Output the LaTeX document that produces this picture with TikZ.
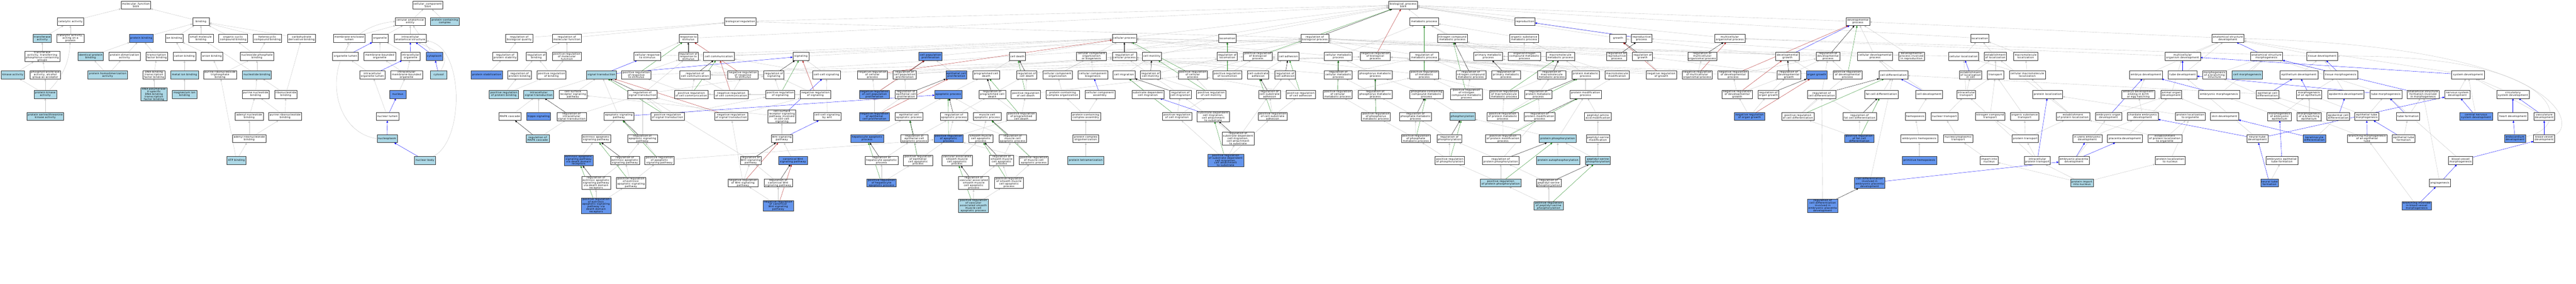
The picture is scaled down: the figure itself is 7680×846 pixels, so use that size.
\documentclass[tikz,border=0pt]{standalone}
\usepackage{fontspec}
\setmainfont{DejaVu Sans}[LetterSpace=8]
\usetikzlibrary{arrows.meta}
\definecolor{lbc}{HTML}{ADD8E6}
\definecolor{cfc}{HTML}{6495ED}
\definecolor{egc}{RGB}{195,195,195}
\definecolor{greenc}{HTML}{228B22}
\definecolor{redc}{HTML}{B22222}
\definecolor{bluec}{HTML}{0000FF}
\pgfdeclarelayer{bg}
\pgfsetlayers{bg,main}
\newcommand{\gonode}[5]{\node[#1,minimum width=#2pt] (#3) at (#4) {#5};}
\begin{document}
\begin{tikzpicture}[x=1pt,y=-1pt,
  gobox/.style={draw=black!80, line width=0.7pt, align=center, font=\fontsize{7.5}{7.6}\selectfont, inner xsep=1.5pt, inner ysep=0.8pt, minimum height=24pt, text=black},
  wb/.style={gobox, fill=white},
  lbb/.style={gobox, fill=lbc},
  cfb/.style={gobox, fill=cfc},
  isa/.style={draw=egc, line width=0.6pt, -{Triangle[length=6pt,width=5pt]}},
  partof/.style={isa, draw=bluec},
  regl/.style={isa, draw=black},
  posr/.style={isa, draw=greenc},
  negr/.style={isa, draw=redc}]
\useasboundingbox (0,0) rectangle (7680,846);
% ---------------- molecular function
\gonode{wb}{88}{mf}{405,15}{molecular\_function\\Stk4}
\gonode{wb}{78}{cat}{210,64}{catalytic activity}
\gonode{wb}{49}{bind}{599,64}{binding}
\gonode{lbb}{54}{transf}{126,114}{transferase\\activity}
\gonode{wb}{80}{catprot}{210,114}{catalytic activity,\\acting on a\\protein}
\gonode{cfb}{71}{pbind}{421,114}{protein binding}
\gonode{wb}{52}{ionb}{519,114}{ion binding}
\gonode{wb}{73}{smb}{599,114}{small molecule\\binding}
\gonode{wb}{86}{ocb}{695,114}{organic cyclic\\compound binding}
\gonode{wb}{85}{hcb}{797,114}{heterocyclic\\compound binding}
\gonode{wb}{84}{cdb}{899,114}{carbohydrate\\derivative binding}
\gonode{wb}{105}{ttpg}{126,168}{transferase\\activity, transferring\\phosphorus-containing\\groups}
\gonode{lbb}{76}{idpb}{270,168}{identical protein\\binding}
\gonode{wb}{94}{pda}{371,168}{protein dimerization\\activity}
\gonode{wb}{65}{tfb}{467,168}{transcription\\factor binding}
\gonode{wb}{68}{catb}{550,168}{cation binding}
\gonode{wb}{64}{anb}{632,168}{anion binding}
\gonode{wb}{101}{nspb}{766,168}{nucleoside phosphate\\binding}
\gonode{lbb}{70}{kin}{38,223}{kinase activity}
\gonode{wb}{91}{pta}{135,223}{phosphotransferase\\activity, alcohol\\group as acceptor}
\gonode{lbb}{118}{phda}{321,223}{protein homodimerization\\activity}
\gonode{wb}{65}{dtfb}{459,223}{DNA-binding\\transcription\\factor binding}
\gonode{lbb}{82}{mib}{550,223}{metal ion binding}
\gonode{wb}{99}{prtb}{656,223}{purine ribonucleoside\\triphosphate\\binding}
\gonode{lbb}{86}{ntb}{766,223}{nucleotide binding}
\gonode{lbb}{68}{pka}{135,281}{protein kinase\\activity}
\gonode{lbb}{78}{rnap}{459,281}{RNA polymerase\\II-specific\\DNA-binding\\transcription\\factor binding}
\gonode{lbb}{74}{mgb}{550,281}{magnesium ion\\binding}
\gonode{wb}{80}{pnb}{762,281}{purine nucleotide\\binding}
\gonode{wb}{67}{rnb}{852,281}{ribonucleotide\\binding}
\gonode{lbb}{110}{pstk}{135,347}{protein serine/threonine\\kinase activity}
\gonode{wb}{83}{adnb}{743,347}{adenyl nucleotide\\binding}
\gonode{wb}{98}{prnb}{850,347}{purine ribonucleotide\\binding}
\gonode{wb}{100}{arnb}{743,413}{adenyl ribonucleotide\\binding}
\gonode{lbb}{57}{atp}{705,478}{ATP binding}
% ---------------- cellular component
\gonode{wb}{90}{cc}{1275,15}{cellular\_component\\Stk4}
\gonode{wb}{88}{cae}{1223,64}{cellular anatomical\\entity}
\gonode{lbb}{85}{pcc}{1326,64}{protein-containing\\complex}
\gonode{wb}{94}{mel}{1041,114}{membrane-enclosed\\lumen}
\gonode{wb}{48}{org}{1133,114}{organelle}
\gonode{wb}{96}{ias}{1223,114}{intracellular\\anatomical structure}
\gonode{wb}{77}{ol}{1030,168}{organelle lumen}
\gonode{wb}{95}{mbo}{1132,168}{membrane-bounded\\organelle}
\gonode{wb}{56}{io}{1224,168}{intracellular\\organelle}
\gonode{cfb}{50}{cyto}{1295,168}{cytoplasm}
\gonode{wb}{76}{iol}{1110,223}{intracellular\\organelle lumen}
\gonode{wb}{95}{imbo}{1212,223}{intracellular\\membrane-bounded\\organelle}
\gonode{lbb}{49}{cytosol}{1308,223}{cytosol}
\gonode{cfb}{49}{nuc}{1186,281}{nucleus}
\gonode{wb}{67}{nl}{1155,347}{nuclear lumen}
\gonode{lbb}{60}{npl}{1154,413}{nucleoplasm}
\gonode{lbb}{62}{nb}{1267,478}{nuclear body}
% ---------------- biological process
\gonode{wb}{85}{bp}{4183,15}{biological\_process\\Stk4}
\gonode{wb}{94}{biolreg}{2207,64}{biological regulation}
\gonode{wb}{85}{metab}{4246,64}{metabolic process}
\gonode{wb}{60}{repro}{4546,64}{reproduction}
\gonode{wb}{70}{devp}{5539,64}{developmental\\process}
% row y114
\gonode{wb}{81}{rbq}{1548,114}{regulation of\\biological quality}
\gonode{wb}{86}{rmf}{1690,114}{regulation of\\molecular function}
\gonode{wb}{55}{rts}{2052,114}{response to\\stimulus}
\gonode{wb}{72}{cellp}{3352,114}{cellular process}
\gonode{wb}{52}{loco}{3659,114}{locomotion}
\gonode{wb}{83}{rbp}{3920,114}{regulation of\\biological process}
\gonode{wb}{89}{ncmp}{4330,114}{nitrogen compound\\metabolic process}
\gonode{wb}{85}{osmp}{4544,114}{organic substance\\metabolic process}
\gonode{wb}{49}{growth}{4824,114}{growth}
\gonode{wb}{60}{rp}{4894,114}{reproductive\\process}
\gonode{wb}{90}{mop}{5157,114}{multicellular\\organismal process}
\gonode{wb}{54}{loc}{5902,114}{localization}
\gonode{wb}{96}{asd}{6642,114}{anatomical structure\\development}
% row y168
\gonode{wb}{74}{rps}{1506,168}{regulation of\\protein stability}
\gonode{wb}{60}{rbind}{1599,168}{regulation of\\binding}
\gonode{wb}{86}{prmf}{1690,168}{positive regulation\\of molecular\\function}
\gonode{wb}{80}{crs}{1930,168}{cellular response\\to stimulus}
\gonode{wb}{59}{rrs}{2052,168}{regulation of\\response to\\stimulus}
\gonode{wb}{91}{cellcomm}{2143,168}{cell communication}
\gonode{wb}{49}{sig}{2388,168}{signaling}
\gonode{cfb}{69}{cpp}{2774,168}{cell population\\proliferation}
\gonode{wb}{48}{cdeath}{3033,168}{cell death}
\gonode{wb}{89}{ccob}{3254,168}{cellular component\\organization\\or biogenesis}
\gonode{wb}{72}{rcp}{3352,168}{regulation of\\cellular process}
\gonode{wb}{56}{cmot}{3434,168}{cell motility}
\gonode{wb}{60}{rloc}{3659,168}{regulation of\\locomotion}
\gonode{wb}{86}{prbp}{3750,168}{positive regulation\\of biological\\process}
\gonode{wb}{63}{cadh}{3841,168}{cell adhesion}
\gonode{wb}{83}{cmp}{3990,168}{cellular metabolic\\process}
\gonode{wb}{90}{nrbp}{4100,168}{negative regulation\\of biological\\process}
\gonode{wb}{85}{rmp}{4246,168}{regulation of\\metabolic process}
\gonode{wb}{86}{pmp}{4437,168}{primary metabolic\\process}
\gonode{wb}{97}{oncmp}{4545,168}{organonitrogen\\compound metabolic\\process}
\gonode{wb}{85}{mmp}{4652,168}{macromolecule\\metabolic process}
\gonode{wb}{60}{rrp}{4820,168}{regulation of\\reproductive\\process}
\gonode{wb}{60}{rgrowth}{4897,168}{regulation of\\growth}
\gonode{wb}{87}{rmop}{5075,168}{regulation of\\multicellular\\organismal process}
\gonode{wb}{70}{dg}{5329,168}{developmental\\growth}
\gonode{wb}{71}{rdp}{5450,168}{regulation of\\developmental\\process}
\gonode{wb}{105}{cdp}{5590,168}{cellular developmental\\process}
\gonode{wb}{78}{dpir}{5699,168}{developmental\\process involved\\in reproduction}
\gonode{wb}{90}{cloc}{5854,168}{cellular localization}
\gonode{wb}{66}{eloc}{5949,168}{establishment\\of localization}
\gonode{wb}{73}{mloc}{6039,168}{macromolecule\\localization}
\gonode{wb}{106}{mod}{6507,168}{multicellular\\organism development}
\gonode{wb}{96}{asm}{6757,168}{anatomical structure\\morphogenesis}
\gonode{wb}{91}{td}{6923,168}{tissue development}
% row y223
\gonode{cfb}{93}{pstab}{1451,223}{protein stabilization}
\gonode{wb}{71}{rpb}{1549,223}{regulation of\\protein binding}
\gonode{wb}{87}{prb}{1644,223}{positive regulation\\of binding}
\gonode{lbb}{88}{st}{1793,223}{signal transduction}
\gonode{wb}{87}{prrs}{1897,223}{positive regulation\\of response\\to stimulus}
\gonode{wb}{91}{rcc}{2072,223}{regulation of\\cell communication}
\gonode{wb}{91}{nrrs}{2215,223}{negative regulation\\of response\\to stimulus}
\gonode{wb}{60}{rsig}{2307,223}{regulation of\\signaling}
\gonode{wb}{82}{ccs}{2464,223}{cell-cell signaling}
\gonode{wb}{90}{nrcp}{2601,223}{negative regulation\\of cellular\\process}
\gonode{wb}{69}{rcpp}{2697,223}{regulation of\\cell population\\proliferation}
\gonode{cfb}{62}{ecp}{2851,223}{epithelial cell\\proliferation}
\gonode{wb}{79}{pcd}{2940,223}{programmed cell\\death}
\gonode{wb}{60}{rcd}{3061,223}{regulation of\\cell death}
\gonode{wb}{88}{cco}{3153,223}{cellular component\\organization}
\gonode{wb}{89}{ccb}{3258,223}{cellular component\\biogenesis}
\gonode{wb}{66}{cmig}{3351,223}{cell migration}
\gonode{wb}{60}{rcm}{3430,223}{regulation of\\cell motility}
\gonode{wb}{86}{prcp}{3556,223}{positive regulation\\of cellular\\process}
\gonode{wb}{86}{prl}{3659,223}{positive regulation\\of locomotion}
\gonode{wb}{63}{csa}{3751,223}{cell-substrate\\adhesion}
\gonode{wb}{62}{rca}{3831,223}{regulation of\\cell adhesion}
\gonode{wb}{83}{rcmp}{3990,223}{regulation of\\cellular metabolic\\process}
\gonode{wb}{101}{phmp}{4100,223}{phosphorus metabolic\\process}
\gonode{wb}{87}{prmp}{4246,223}{positive regulation\\of metabolic\\process}
\gonode{wb}{89}{rncmp}{4385,223}{regulation of\\nitrogen compound\\metabolic process}
\gonode{wb}{85}{rpmp}{4490,223}{regulation of\\primary metabolic\\process}
\gonode{wb}{85}{rmmp}{4626,223}{regulation of\\macromolecule\\metabolic process}
\gonode{wb}{82}{protmp}{4727,223}{protein metabolic\\process}
\gonode{wb}{73}{mmod}{4821,223}{macromolecule\\modification}
\gonode{wb}{90}{nrg}{4953,223}{negative regulation\\of growth}
\gonode{wb}{90}{nrmop}{5060,223}{negative regulation\\of multicellular\\organismal process}
\gonode{wb}{90}{nrdp}{5167,223}{negative regulation\\of developmental\\process}
\gonode{wb}{70}{rdg}{5333,223}{regulation of\\developmental\\growth}
\gonode{cfb}{62}{og}{5416,223}{organ growth}
\gonode{wb}{86}{prdp}{5508,223}{positive regulation\\of developmental\\process}
\gonode{wb}{85}{cdiff}{5645,223}{cell differentiation}
\gonode{wb}{66}{elic}{5875,223}{establishment\\of localization\\in cell}
\gonode{wb}{49}{transp}{5949,223}{transport}
\gonode{wb}{107}{cmloc}{6044,223}{cellular macromolecule\\localization}
\gonode{wb}{99}{embd}{6398,223}{embryo development}
\gonode{wb}{86}{tubed}{6507,223}{tube development}
\gonode{wb}{71}{mbs}{6602,223}{morphogenesis\\of a branching\\structure}
\gonode{lbb}{91}{cmorph}{6700,223}{cell morphogenesis}
\gonode{wb}{113}{epid}{6854,223}{epithelium development}
\gonode{wb}{101}{tm}{6978,223}{tissue morphogenesis}
\gonode{wb}{98}{sysd}{7358,223}{system development}
% row y281
\gonode{lbb}{87}{prpb}{1502,281}{positive regulation\\of protein binding}
\gonode{lbb}{89}{ist}{1606,281}{intracellular\\signal transduction}
\gonode{wb}{83}{csrsp}{1708,281}{cell surface\\receptor signaling\\pathway}
\gonode{wb}{88}{rst}{1915,281}{regulation of\\signal transduction}
\gonode{wb}{101}{prcc}{2061,281}{positive regulation\\of cell communication}
\gonode{wb}{102}{nrcc}{2180,281}{negative regulation\\of cell communication}
\gonode{wb}{86}{prsig}{2326,281}{positive regulation\\of signaling}
\gonode{wb}{90}{nrsig}{2431,281}{negative regulation\\of signaling}
\gonode{cfb}{90}{nrcpp}{2607,281}{negative regulation\\of cell population\\proliferation}
\gonode{wb}{64}{recp}{2701,281}{regulation of\\epithelial cell\\proliferation}
\gonode{cfb}{81}{apop}{2827,281}{apoptotic process}
\gonode{wb}{80}{rpcd}{2958,281}{regulation of\\programmed cell\\death}
\gonode{wb}{87}{prcd}{3058,281}{positive regulation\\of cell death}
\gonode{wb}{100}{pcco}{3168,281}{protein-containing\\complex organization}
\gonode{wb}{89}{cca}{3279,281}{cellular component\\assembly}
\gonode{wb}{95}{sdcm}{3422,281}{substrate-dependent\\cell migration}
\gonode{wb}{65}{rcmig}{3519,281}{regulation of\\cell migration}
\gonode{wb}{87}{prcmot}{3611,281}{positive regulation\\of cell motility}
\gonode{wb}{64}{rcsa}{3785,281}{regulation of\\cell-substrate\\adhesion}
\gonode{wb}{87}{prca}{3878,281}{positive regulation\\of cell adhesion}
\gonode{wb}{86}{prcmp}{3988,281}{positive regulation\\of cellular\\metabolic process}
\gonode{wb}{101}{rphmp}{4100,281}{regulation of\\phosphorus metabolic\\process}
\gonode{wb}{99}{pccmp}{4253,281}{phosphate-containing\\compound metabolic\\process}
\gonode{wb}{96}{prncmp}{4372,281}{positive regulation\\of nitrogen\\compound metabolic\\process}
\gonode{wb}{87}{prmmp}{4484,281}{positive regulation\\of macromolecule\\metabolic process}
\gonode{wb}{82}{rprotmp}{4586,281}{regulation of\\protein metabolic\\process}
\gonode{wb}{93}{pmodp}{4727,281}{protein modification\\process}
\gonode{wb}{91}{nrdg}{5179,281}{negative regulation\\of developmental\\growth}
\gonode{wb}{62}{rog}{5272,281}{regulation of\\organ growth}
\gonode{wb}{85}{rcdiff}{5431,281}{regulation of\\cell differentiation}
\gonode{wb}{99}{fcd}{5609,281}{fat cell differentiation}
\gonode{wb}{80}{celld}{5751,281}{cell development}
\gonode{wb}{56}{ict}{5862,281}{intracellular\\transport}
\gonode{wb}{89}{ploc}{6105,281}{protein localization}
\gonode{wb}{99}{edebeh}{6375,281}{embryo development\\ending in birth\\or egg hatching}
\gonode{wb}{62}{aod}{6473,281}{animal organ\\development}
\gonode{wb}{122}{emorph}{6616,281}{embryonic morphogenesis}
\gonode{wb}{67}{ecd}{6760,281}{epithelial cell\\differentiation}
\gonode{wb}{76}{moe}{6884,281}{morphogenesis\\of an epithelium}
\gonode{wb}{108}{epidd}{6994,281}{epidermis development}
\gonode{wb}{95}{tmorph}{7113,281}{tube morphogenesis}
\gonode{wb}{96}{asfim}{7224,281}{anatomical structure\\formation involved\\in morphogenesis}
\gonode{wb}{75}{nsd}{7326,281}{nervous system\\development}
\gonode{wb}{98}{csd}{7492,281}{circulatory\\system development}
% row y347
\gonode{wb}{67}{mapk}{1520,347}{MAPK cascade}
\gonode{cfb}{71}{hippo}{1606,347}{hippo signaling}
\gonode{wb}{88}{rist}{1704,347}{regulation of\\intracellular\\signal transduction}
\gonode{wb}{89}{asp}{1845,347}{apoptotic signaling\\pathway}
\gonode{wb}{100}{prst}{1990,347}{positive regulation\\of signal transduction}
\gonode{wb}{99}{nrst}{2180,347}{negative regulation\\of signal transduction}
\gonode{wb}{83}{csrspc}{2331,347}{cell surface\\receptor signaling\\pathway involved\\in cell-cell\\signaling}
\gonode{wb}{81}{ccsw}{2466,347}{cell-cell signaling\\by wnt}
\gonode{cfb}{90}{nrecp}{2607,347}{negative regulation\\of epithelial\\cell proliferation}
\gonode{wb}{82}{ecap}{2710,347}{epithelial cell\\apoptotic process}
\gonode{wb}{81}{rap}{2844,347}{regulation of\\apoptotic process}
\gonode{wb}{82}{mcap}{2943,347}{muscle cell\\apoptotic process}
\gonode{wb}{87}{prpcd}{3045,347}{positive regulation\\of programmed\\cell death}
\gonode{wb}{87}{pcca}{3237,347}{protein-containing\\complex assembly}
\gonode{wb}{87}{prcmig}{3509,347}{positive regulation\\of cell migration}
\gonode{wb}{96}{sdcmca}{3617,347}{substrate-dependent\\cell migration,\\cell attachment\\to substrate}
\gonode{wb}{86}{prcsa}{3794,347}{positive regulation\\of cell-substrate\\adhesion}
\gonode{wb}{86}{prphmp}{4102,347}{positive regulation\\of phosphorus\\metabolic process}
\gonode{wb}{96}{rphosmp}{4220,347}{regulation of\\phosphate metabolic\\process}
\gonode{lbb}{75}{phos}{4360,347}{phosphorylation}
\gonode{wb}{94}{prprotmp}{4480,347}{positive regulation\\of protein metabolic\\process}
\gonode{wb}{93}{rpmodp}{4590,347}{regulation of\\protein modification\\process}
\gonode{wb}{80}{paam}{4764,347}{peptidyl-amino\\acid modification}
\gonode{cfb}{90}{nrog}{5216,347}{negative regulation\\of organ growth}
\gonode{wb}{96}{prcdiff}{5360,347}{positive regulation\\of cell differentiation}
\gonode{wb}{100}{rfcd}{5544,347}{regulation of\\fat cell differentiation}
\gonode{wb}{60}{hemo}{5710,347}{hemopoiesis}
\gonode{wb}{80}{nt}{5797,347}{nuclear transport}
\gonode{wb}{88}{ncomt}{5933,347}{nitrogen compound\\transport}
\gonode{wb}{84}{ost}{6036,347}{organic substance\\transport}
\gonode{wb}{100}{epl}{6180,347}{establishment\\of protein localization}
\gonode{wb}{78}{eod}{6286,347}{embryonic organ\\development}
\gonode{wb}{92}{ced}{6388,347}{chordate embryonic\\development}
\gonode{wb}{88}{plo}{6530,347}{protein localization\\to organelle}
\gonode{wb}{84}{skin}{6632,347}{skin development}
\gonode{wb}{71}{moee}{6796,347}{morphogenesis\\of embryonic\\epithelium}
\gonode{wb}{72}{mobe}{6884,347}{morphogenesis\\of a branching\\epithelium}
\gonode{wb}{67}{edcd}{6971,347}{epidermal cell\\differentiation}
\gonode{wb}{72}{etm}{7056,347}{epithelial tube\\morphogenesis}
\gonode{wb}{69}{tf}{7179,347}{tube formation}
\gonode{cfb}{98}{cnsd}{7382,347}{central nervous\\system development}
\gonode{wb}{89}{hd}{7492,347}{heart development}
\gonode{wb}{62}{vd}{7585,347}{vasculature\\development}
% row y413
\gonode{lbb}{68}{rmapk}{1603,413}{regulation of\\MAPK cascade}
\gonode{wb}{86}{easp}{1777,413}{extrinsic apoptotic\\signaling pathway}
\gonode{wb}{89}{rasp}{1915,413}{regulation of\\apoptotic signaling\\pathway}
\gonode{wb}{63}{wnt}{2331,413}{Wnt signaling\\pathway}
\gonode{cfb}{98}{hap}{2585,413}{hepatocyte apoptotic\\process}
\gonode{wb}{82}{reap}{2726,413}{regulation of\\epithelial cell\\apoptotic process}
\gonode{cfb}{87}{prap}{2828,413}{positive regulation\\of apoptotic\\process}
\gonode{wb}{72}{smcap}{2924,413}{smooth muscle\\cell apoptotic\\process}
\gonode{wb}{81}{rmcap}{3019,413}{regulation of\\muscle cell\\apoptotic process}
\gonode{wb}{76}{pco}{3237,413}{protein complex\\oligomerization}
\gonode{wb}{96}{rsdcm}{3691,413}{regulation of\\substrate-dependent\\cell migration,\\cell attachment\\to substrate}
\gonode{wb}{86}{prpmp}{4221,413}{positive regulation\\of phosphate\\metabolic process}
\gonode{wb}{75}{rphos}{4321,413}{regulation of\\phosphorylation}
\gonode{wb}{104}{prpmodp}{4481,413}{positive regulation\\of protein modification\\process}
\gonode{lbb}{110}{pphos}{4644,413}{protein phosphorylation}
\gonode{wb}{70}{psm}{4764,413}{peptidyl-serine\\modification}
\gonode{cfb}{87}{pfcd}{5543,413}{positive regulation\\of fat cell\\differentiation}
\gonode{wb}{111}{ehemo}{5722,413}{embryonic hemopoiesis}
\gonode{wb}{87}{nct}{5838,413}{nucleocytoplasmic\\transport}
\gonode{wb}{78}{ptrans}{6038,413}{protein transport}
\gonode{wb}{88}{iued}{6223,413}{in utero embryonic\\development}
\gonode{wb}{104}{pd}{6335,413}{placenta development}
\gonode{wb}{101}{eplo}{6454,413}{establishment\\of protein localization\\to organelle}
\gonode{wb}{62}{ntd}{6730,413}{neural tube\\development}
\gonode{cfb}{67}{kd}{6900,413}{keratinocyte\\differentiation}
\gonode{wb}{118}{bmet}{7057,413}{branching morphogenesis\\of an epithelial\\tube}
\gonode{wb}{67}{etf}{7166,413}{epithelial tube\\formation}
\gonode{cfb}{62}{endo}{7498,413}{endocardium\\development}
\gonode{wb}{63}{bvd}{7585,413}{blood vessel\\development}
% row y478
\gonode{cfb}{86}{easpdd}{1725,478}{extrinsic apoptotic\\signaling pathway\\via death domain\\receptors}
\gonode{wb}{86}{reasp}{1863,478}{regulation of\\extrinsic apoptotic\\signaling pathway}
\gonode{wb}{87}{prasp}{1966,478}{positive regulation\\of apoptotic\\signaling pathway}
\gonode{wb}{62}{rwnt}{2238,478}{regulation of\\Wnt signaling\\pathway}
\gonode{cfb}{85}{cwnt}{2364,478}{canonical Wnt\\signaling pathway}
\gonode{wb}{98}{rhap}{2628,478}{regulation of\\hepatocyte apoptotic\\process}
\gonode{wb}{87}{preap}{2737,478}{positive regulation\\of epithelial\\cell apoptotic\\process}
\gonode{wb}{91}{vsmcap}{2853,478}{vascular associated\\smooth muscle\\cell apoptotic\\process}
\gonode{wb}{72}{rsmcap}{2986,478}{regulation of\\smooth muscle\\cell apoptotic\\process}
\gonode{wb}{86}{prmcap}{3082,478}{positive regulation\\of muscle cell\\apoptotic process}
\gonode{lbb}{107}{ptet}{3237,478}{protein tetramerization}
\gonode{cfb}{107}{prsdcm}{3654,478}{positive regulation\\of substrate-dependent\\cell migration,\\cell attachment\\to substrate}
\gonode{wb}{87}{prphos}{4322,478}{positive regulation\\of phosphorylation}
\gonode{wb}{108}{rpphos}{4474,478}{regulation of\\protein phosphorylation}
\gonode{lbb}{128}{pap}{4645,478}{protein autophosphorylation}
\gonode{lbb}{74}{psp}{4764,478}{peptidyl-serine\\phosphorylation}
\gonode{cfb}{103}{phemo}{5722,478}{primitive hemopoiesis}
\gonode{wb}{53}{iin}{5930,478}{import into\\nucleus}
\gonode{wb}{77}{ipt}{6074,478}{intracellular\\protein transport}
\gonode{wb}{90}{epd}{6183,478}{embryonic placenta\\development}
\gonode{wb}{89}{pln}{6470,478}{protein localization\\to nucleus}
\gonode{wb}{95}{eetf}{6803,478}{embryonic epithelial\\tube formation}
\gonode{wb}{72}{bvm}{7336,478}{blood vessel\\morphogenesis}
% row y545
\gonode{wb}{86}{reaspdd}{1777,545}{regulation of\\extrinsic apoptotic\\signaling pathway\\via death domain\\receptors}
\gonode{wb}{88}{preasp}{1881,545}{positive regulation\\of extrinsic\\apoptotic signaling\\pathway}
\gonode{wb}{90}{nrwnt}{2215,545}{negative regulation\\of Wnt signaling\\pathway}
\gonode{wb}{84}{rcwnt}{2320,545}{regulation of\\canonical Wnt\\signaling pathway}
\gonode{cfb}{87}{prhap}{2628,545}{positive regulation\\of hepatocyte\\apoptotic process}
\gonode{wb}{91}{rvsmcap}{2903,545}{regulation of\\vascular associated\\smooth muscle\\cell apoptotic\\process}
\gonode{wb}{87}{prsmcap}{3008,545}{positive regulation\\of smooth muscle\\cell apoptotic\\process}
\gonode{lbb}{121}{ppphos}{4474,545}{positive regulation\\of protein phosphorylation}
\gonode{wb}{74}{rpsp}{4617,545}{regulation of\\peptidyl-serine\\phosphorylation}
\gonode{cfb}{90}{cdiep}{5574,545}{cell differentiation\\involved in\\embryonic placenta\\development}
\gonode{lbb}{67}{pin}{6207,545}{protein import\\into nucleus}
\gonode{cfb}{53}{ntf}{6766,545}{neural tube\\formation}
\gonode{wb}{62}{angio}{7274,545}{angiogenesis}
% row y613
\gonode{cfb}{89}{preaspdd}{1777,613}{positive regulation\\of extrinsic\\apoptotic signaling\\pathway via\\death domain\\receptors}
\gonode{cfb}{90}{nrcwnt}{2320,613}{negative regulation\\of canonical\\Wnt signaling\\pathway}
\gonode{lbb}{88}{prvsmcap}{2902,613}{positive regulation\\of vascular\\associated smooth\\muscle cell\\apoptotic process}
\gonode{lbb}{87}{ppsp}{4617,613}{positive regulation\\of peptidyl-serine\\phosphorylation}
\gonode{cfb}{91}{rcdiep}{5434,613}{regulation of\\cell differentiation\\involved in\\embryonic placenta\\development}
\gonode{cfb}{88}{bibvm}{7205,613}{branching involved\\in blood vessel\\morphogenesis}
% ---------------- edges
\begin{pgfonlayer}{bg}
\fill[white] (0,0) rectangle (7680,846);
\foreach \a/\b in {cat/mf,bind/mf,transf/cat,catprot/cat,pbind/bind,ionb/bind,smb/bind,ocb/bind,hcb/bind,cdb/bind,ttpg/transf,idpb/pbind,pda/pbind,tfb/pbind,catb/ionb,anb/ionb,nspb/ocb,nspb/hcb,kin/ttpg,pta/ttpg,phda/idpb,phda/pda,dtfb/tfb,mib/catb,prtb/anb,prtb/nspb,ntb/nspb,ntb/smb,pka/kin,pka/pta,rnap/dtfb,mgb/mib,pnb/ntb,rnb/ntb,rnb/cdb,pstk/pka,adnb/pnb,prnb/pnb,prnb/rnb,arnb/adnb,arnb/prnb,atp/arnb,atp/prtb,
cae/cc,pcc/cc,mel/cae,org/cae,ias/cae,ol/mel,mbo/org,io/org,iol/ol,imbo/mbo,imbo/io,cyto/cae,nuc/imbo,nl/iol,
biolreg/bp,metab/bp,repro/bp,devp/bp,rts/bp,cellp/bp,loco/bp,growth/bp,rp/bp,mop/bp,loc/bp,ccob/bp,
rbq/biolreg,rmf/biolreg,rbp/biolreg,ncmp/metab,osmp/metab,asd/devp,
rps/rbq,rbind/rmf,prmf/rmf,crs/rts,crs/cellp,rrs/rbp,cellcomm/cellp,sig/cellp,cpp/cellp,cdeath/cellp,rcp/rbp,cmot/cellp,cmot/loco,rloc/rbp,prbp/rbp,cadh/cellp,cmp/cellp,cmp/metab,nrbp/rbp,rmp/rbp,pmp/metab,oncmp/ncmp,oncmp/osmp,mmp/osmp,mmp/pmp,rrp/rbp,rgrowth/rbp,rmop/rbp,dg/growth,rdp/rbp,cdp/devp,cdp/cellp,dpir/devp,dpir/rp,cloc/loc,cloc/cellp,eloc/loc,mloc/loc,mod/asd,mod/mop,td/asd,td/mop,
pstab/rps,rpb/rbind,prb/rbind,prb/prmf,prrs/rrs,prrs/prbp,rcc/rbp,nrrs/rrs,nrrs/nrbp,rsig/rcc,ccs/sig,ccs/cellcomm,nrcp/rcp,nrcp/nrbp,rcpp/rcp,ecp/cpp,pcd/cdeath,rcd/rcp,cco/ccob,cco/cellp,ccb/ccob,cmig/cmot,rcm/rloc,rcm/rcp,prcp/rcp,prcp/prbp,prl/rloc,prl/prbp,csa/cadh,rca/rcp,rcmp/rcp,rcmp/rmp,phmp/cmp,prmp/rmp,prmp/prbp,rncmp/rmp,rpmp/rmp,rmmp/rmp,protmp/oncmp,protmp/mmp,protmp/pmp,mmod/mmp,nrg/rgrowth,nrg/nrbp,nrmop/rmop,nrmop/nrbp,nrdp/rdp,nrdp/nrbp,rdg/rdp,rdg/rgrowth,og/dg,prdp/rdp,prdp/prbp,cdiff/cdp,elic/eloc,transp/eloc,cmloc/mloc,cmloc/cloc,embd/asd,tubed/asd,mbs/asm,cmorph/asm,epid/td,tm/asm,sysd/asd,
prpb/rpb,prpb/prb,ist/st,csrsp/st,rst/rsig,rst/rrs,prcc/rcc,prcc/prrs,nrcc/rcc,nrcc/nrrs,prsig/rsig,prsig/prcc,nrsig/rsig,nrsig/nrcc,nrcpp/rcpp,nrcpp/nrcp,recp/rcpp,apop/pcd,rpcd/rcd,prcd/rcd,prcd/prcp,pcco/cco,sdcm/cmig,rcmig/rcm,prcmot/rcm,prcmot/prcp,rcsa/rca,prca/rca,prca/prcp,prcmp/rcmp,prcmp/prmp,rphmp/rcmp,pccmp/phmp,prncmp/rncmp,prncmp/prmp,prmmp/rmmp,prmmp/prmp,rprotmp/rmmp,pmodp/protmp,pmodp/mmod,nrdg/rdg,nrdg/nrdp,rog/rdg,rcdiff/rdp,fcd/cdiff,celld/cdp,ict/elic,ict/transp,ict/cloc,ploc/cmloc,edebeh/embd,aod/mod,emorph/asm,ecd/cdiff,moe/tm,epidd/td,tmorph/asm,nsd/sysd,csd/sysd,
mapk/ist,hippo/ist,rist/rst,asp/st,prst/rst,prst/prsig,nrst/rst,nrst/nrsig,csrspc/csrsp,ccsw/ccs,nrecp/recp,nrecp/nrcpp,ecap/apop,rap/rpcd,mcap/apop,prpcd/rpcd,prpcd/prcd,pcca/pcco,pcca/cca,prcmig/rcmig,prcmig/prcmot,prcsa/rcsa,prcsa/prca,prphmp/rphmp,prphmp/prcmp,rphosmp/rphmp,phos/pccmp,prprotmp/rprotmp,prprotmp/prmmp,rpmodp/rprotmp,paam/pmodp,nrog/rog,nrog/nrdg,prcdiff/rcdiff,prcdiff/prdp,rfcd/rcdiff,hemo/celld,nt/ict,ncomt/transp,ost/transp,epl/eloc,epl/ploc,eod/aod,ced/edebeh,plo/ploc,skin/aod,moee/moe,moee/emorph,mobe/moe,mobe/mbs,edcd/ecd,etm/moe,etm/tmorph,tf/asfim,vd/sysd,cnsd/sysd,
rmapk/rist,easp/asp,rasp/rst,wnt/csrspc,hap/ecap,reap/rap,prap/rap,prap/prpcd,smcap/mcap,rmcap/rap,pco/pcca,rsdcm/rcmig,rsdcm/rcsa,prpmp/rphosmp,prpmp/prphmp,rphos/rphosmp,prpmodp/rpmodp,prpmodp/prprotmp,pphos/phos,pphos/pmodp,psm/paam,pfcd/rfcd,pfcd/prcdiff,ehemo/hemo,nct/nt,ptrans/ncomt,ptrans/ost,ptrans/epl,iued/ced,pd/aod,eplo/epl,eplo/plo,ntd/tubed,kd/edcd,bmet/mobe,etf/tf,
easpdd/easp,reasp/rasp,prasp/rasp,prasp/prap,rwnt/rst,cwnt/wnt,rhap/reap,preap/reap,preap/prap,vsmcap/smcap,rsmcap/rmcap,prmcap/rmcap,prmcap/prap,ptet/pco,prsdcm/rsdcm,prsdcm/prcmig,prsdcm/prcsa,prphos/rphos,prphos/prpmp,rpphos/rphos,rpphos/rpmodp,pap/pphos,psp/pphos,psp/psm,phemo/ehemo,iin/nct,ipt/ptrans,ipt/ict,epd/eod,pln/plo,bvm/tmorph,
reaspdd/reasp,preasp/reasp,preasp/prasp,nrwnt/rwnt,nrwnt/nrst,rcwnt/rwnt,prhap/rhap,prhap/preap,rvsmcap/rsmcap,prsmcap/rsmcap,prsmcap/prmcap,ppphos/rpphos,ppphos/prphos,rpsp/rpphos,cdiep/cdiff,pin/iin,pin/ipt,pin/pln,ntf/eetf,angio/asfim,
preaspdd/reaspdd,preaspdd/preasp,nrcwnt/rcwnt,nrcwnt/nrwnt,prvsmcap/rvsmcap,prvsmcap/prsmcap,ppsp/rpsp,ppsp/ppphos,rcdiep/rcdiff,bibvm/bmet}
  \draw[isa] (\a) -- (\b);
\draw[isa] (pka) to[bend right=20] (catprot);
\draw[isa] (npl.west) .. controls (960,390) and (950,85) .. (cae.west);
\draw[isa] (cytosol) .. controls (1335,170) .. (ias);
\draw[isa] (nb) .. controls (1385,420) and (1385,140) .. (ias);
\draw[isa] (endo) .. controls (7680,380) and (7650,160) .. (td);
\draw[isa] (bvd) .. controls (7680,380) and (7660,140) .. (asd);
\foreach \a/\b in {ol/org,io/ias,cyto/ias,iol/io,cytosol/cyto,nl/nuc,npl/nl,nb/npl,rp/repro,dg/devp,asm/asd,st/crs,st/sig,elic/cloc,tubed/mod,tm/td,sysd/mod,cca/ccb,celld/cdiff,emorph/embd,ecd/epid,moe/epid,tmorph/tubed,asfim/asm,csrspc/ccs,sdcmca/sdcm,eod/embd,edcd/epidd,tf/tmorph,cnsd/nsd,hd/csd,vd/csd,wnt/ccsw,ntd/ced,ntd/nsd,kd/skin,endo/hd,bvd/vd,epd/iued,epd/pd,eetf/moee,bvm/bvd,cdiep/epd,ntf/ntd,angio/bvm,bibvm/angio,asp/apop,ipt/ploc,bmet/etm,etf/etm}
  \draw[partof] (\a) -- (\b);
\foreach \a/\b in {rbp/bp,rrs/rts,rcp/cellp,rloc/loco,rmp/metab,rrp/rp,rgrowth/growth,rmop/mop,rdp/devp,rcc/cellcomm,rsig/sig,rcpp/cpp,rcd/cdeath,rcm/cmot,rca/cadh,rcmp/cmp,rncmp/ncmp,rpmp/pmp,rmmp/mmp,rdg/dg,rst/st,recp/ecp,rpcd/pcd,rcmig/cmig,rcsa/csa,rphmp/phmp,rprotmp/protmp,rog/og,rcdiff/cdiff,rist/ist,rap/apop,rphosmp/pccmp,rpmodp/pmodp,rfcd/fcd,rmapk/mapk,rasp/asp,reap/ecap,rmcap/mcap,rsdcm/sdcmca,rphos/phos,reasp/easp,rwnt/wnt,rhap/hap,rsmcap/smcap,rpphos/pphos,reaspdd/easpdd,rcwnt/cwnt,rvsmcap/vsmcap,rpsp/psp,rcdiep/cdiep}
  \draw[regl] (\a) -- (\b);
\foreach \a/\b in {prbp/bp,prrs/rts,prcp/cellp,prl/loco,prmp/metab,prdp/devp,prcc/cellcomm,prsig/sig,prcd/cdeath,prcmot/cmot,prca/cadh,prcmp/cmp,prncmp/ncmp,prmmp/mmp,prst/st,prpcd/pcd,prcmig/cmig,prcsa/csa,prphmp/phmp,prprotmp/protmp,prcdiff/cdiff,prap/apop,prpmp/pccmp,prpmodp/pmodp,pfcd/fcd,prasp/asp,preap/ecap,prmcap/mcap,prsdcm/sdcmca,prphos/phos,prhap/hap,prsmcap/smcap,ppphos/pphos,preasp/easp,prvsmcap/vsmcap,ppsp/psp,preaspdd/easpdd}
  \draw[posr] (\a) -- (\b);
\foreach \a/\b in {nrbp/bp,nrrs/rts,nrcp/cellp,nrg/growth,nrmop/mop,nrdp/devp,nrcc/cellcomm,nrsig/sig,nrcpp/cpp,nrst/st,nrecp/ecp,nrdg/dg,nrog/og,nrwnt/wnt,nrcwnt/cwnt}
  \draw[negr] (\a) -- (\b);
\end{pgfonlayer}
\end{tikzpicture}
\end{document}
